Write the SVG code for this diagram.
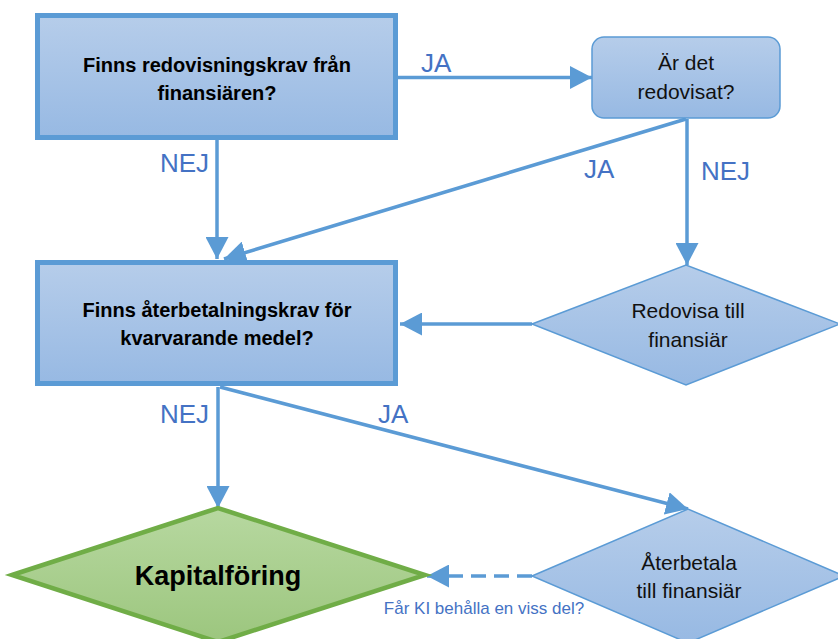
<svg xmlns="http://www.w3.org/2000/svg" width="838" height="639" viewBox="0 0 838 639">
<style>
.box{stroke:#5b9bd5;stroke-width:5;fill:url(#gBlue)}
.soft{stroke:#5b9bd5;stroke-width:1.5;fill:url(#gBlue)}
.green{stroke:#70ad47;stroke-width:4.5;fill:url(#gGreen)}
.conn{stroke:#5b9bd5;stroke-width:3.5;fill:none;marker-end:url(#arr)}
.dash{stroke-dasharray:15 8}
.bold{font-family:"Liberation Sans",Arial,sans-serif;font-weight:bold;fill:#000;text-anchor:middle}
.reg{font-family:"Liberation Sans",Arial,sans-serif;fill:#111;text-anchor:middle;font-size:21px}
.lbl{font-family:"Liberation Sans",Arial,sans-serif;fill:#4472c4;font-size:26px}
</style>
<defs>
<linearGradient id="gBlue" x1="0" y1="0" x2="0" y2="1">
<stop offset="0" stop-color="#b6cdea"/>
<stop offset="1" stop-color="#97b9e3"/>
</linearGradient>
<linearGradient id="gGreen" x1="0" y1="0" x2="0" y2="1">
<stop offset="0" stop-color="#b7d8a0"/>
<stop offset="1" stop-color="#9cc67e"/>
</linearGradient>
<marker id="arr" markerUnits="userSpaceOnUse" markerWidth="23" markerHeight="23" refX="22" refY="11.5" orient="auto" viewBox="0 0 23 23">
<path d="M0,0 L22,11.5 L0,23 Z" fill="#5b9bd5"/>
</marker>
</defs>

<g id="connectors">
<line class="conn" x1="398" y1="77.5" x2="592" y2="77.5"/>
<line class="conn" x1="217" y1="140" x2="217" y2="259"/>
<line class="conn" x1="686" y1="119" x2="224" y2="259"/>
<line class="conn" x1="687" y1="119" x2="687" y2="265"/>
<line class="conn" x1="532" y1="324" x2="400" y2="324"/>
<line class="conn" x1="218" y1="387" x2="218" y2="508"/>
<line class="conn" x1="220" y1="387" x2="688" y2="509"/>
<line class="conn dash" x1="532" y1="576" x2="427" y2="576"/>
<text class="lbl" x="421" y="72">JA</text>
<text class="lbl" x="160" y="172">NEJ</text>
<text class="lbl" x="584" y="178">JA</text>
<text class="lbl" x="701" y="180">NEJ</text>
<text class="lbl" x="160" y="423">NEJ</text>
<text class="lbl" x="378" y="423">JA</text>
<text x="484" y="614" style="font-family:'Liberation Sans',Arial,sans-serif;fill:#4472c4;font-size:17px;text-anchor:middle">Får KI behålla en viss del?</text>
</g>

<g id="q1">
<rect class="box" x="37.5" y="15.5" width="358" height="122"/>
<text class="bold" font-size="20" x="217" y="72">Finns redovisningskrav från</text>
<text class="bold" font-size="20" x="217" y="100">finansiären?</text>
</g>

<g id="q2">
<rect class="soft" x="592" y="37" width="188" height="81" rx="12"/>
<text class="reg" x="686" y="70">Är det</text>
<text class="reg" x="686" y="99">redovisat?</text>
</g>

<g id="q3">
<rect class="box" x="37.5" y="262.5" width="358" height="121"/>
<text class="bold" font-size="20" x="217" y="317">Finns återbetalningskrav för</text>
<text class="bold" font-size="20" x="217" y="345">kvarvarande medel?</text>
</g>

<g id="redovisa">
<polygon class="soft" points="532,324 686,265 840,324 686,385"/>
<text class="reg" x="688" y="318">Redovisa till</text>
<text class="reg" x="688" y="347">finansiär</text>
</g>

<g id="aterbetala">
<polygon class="soft" points="532,576 688,509 844,576 688,643"/>
<text class="reg" x="689" y="570">Återbetala</text>
<text class="reg" x="689" y="598">till finansiär</text>
</g>

<g id="kapital">
<polygon class="green" points="12,575 218,508 425,575 218,642"/>
<text class="bold" font-size="27" x="218" y="585">Kapitalföring</text>
</g>
</svg>
